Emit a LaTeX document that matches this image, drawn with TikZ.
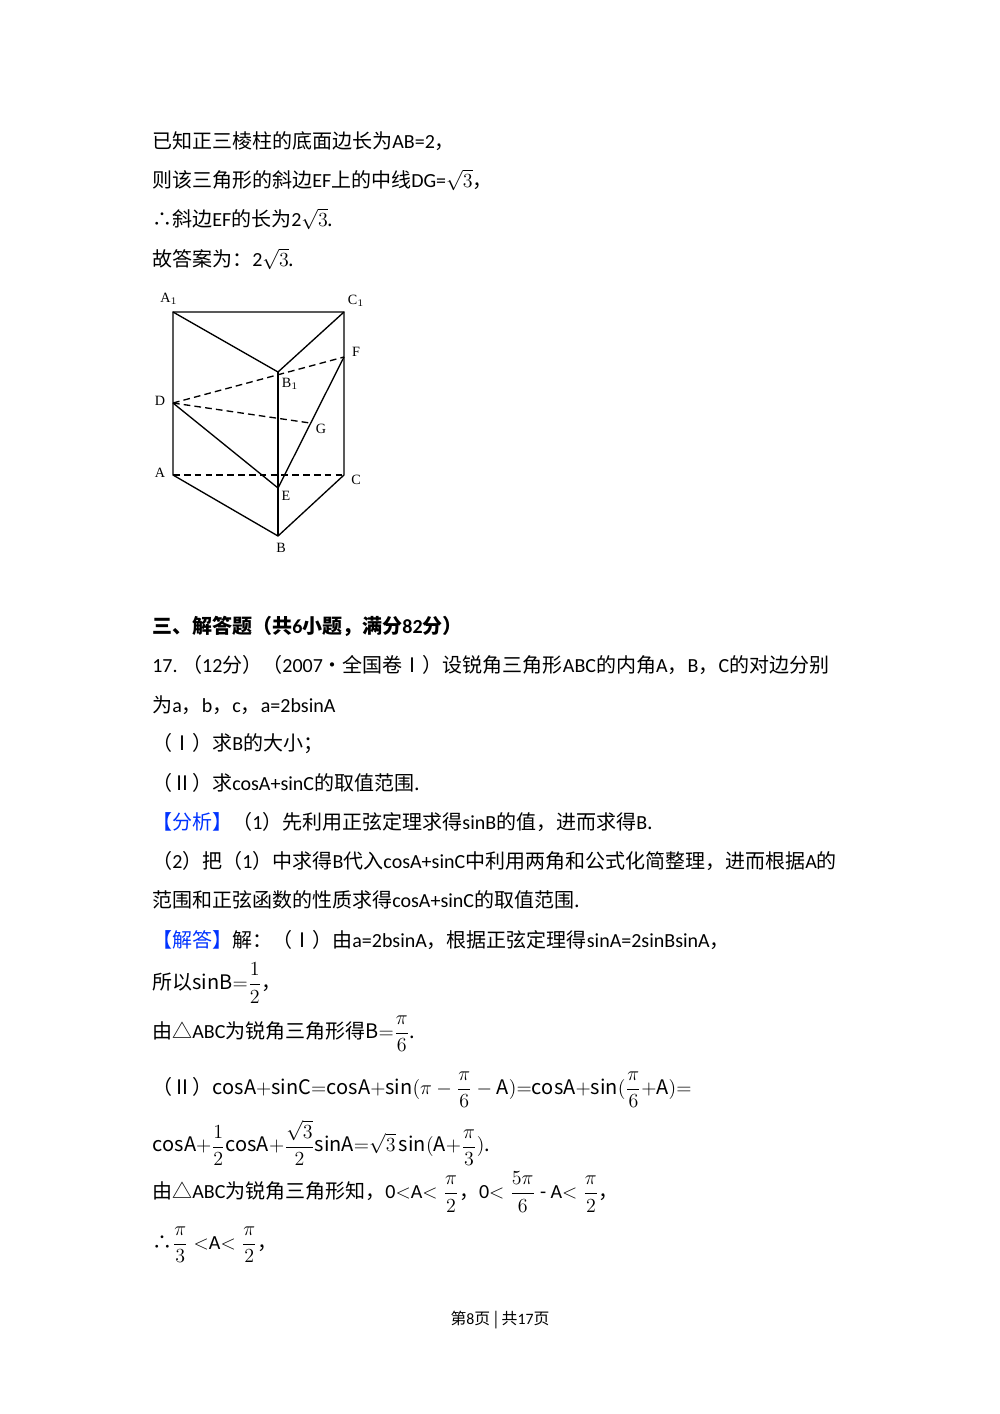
\documentclass[tikz,border=0pt]{standalone}
\usepackage{fontspec}
\setmainfont{Noto Sans CJK SC}
\newfontfamily\lt{Carlito}
\newfontfamily\sr{Liberation Serif}
\begin{document}
\begin{tikzpicture}[x=0.6pt,y=-0.6pt,
  tl/.style={anchor=west,inner sep=0pt,font=\fontsize{12pt}{13pt}\selectfont},
  lab/.style={inner sep=0pt,font=\sr\fontsize{8.5pt}{10pt}\selectfont},
  edge/.style={line width=0.8pt},
  hid/.style={line width=0.8pt,dashed,dash pattern=on 4pt off 2.5pt}]
\useasboundingbox[fill=white] (0,0) rectangle (1000,1414);
\node[tl] (t1) at (152,141) {已知正三棱柱的底面边长为{\lt AB=2}，};
\node[tl] (t2) at (152,180) {则该三角形的斜边{\lt EF}上的中线{\lt DG=}$\sqrt{3}$，};
\node[tl] (t3) at (152,219) {∴斜边{\lt EF}的长为{\lt 2}$\sqrt{3}$.};
\node[tl] (t4) at (152,259) {故答案为：{\lt 2}$\sqrt{3}$.};
% figure
\coordinate (A1) at (173,312); \coordinate (C1) at (344,312);
\coordinate (B1) at (278,372); \coordinate (F) at (344,357);
\coordinate (D) at (173,403); \coordinate (G) at (310,423);
\coordinate (A) at (173,475); \coordinate (C) at (344,475);
\coordinate (E) at (278,488); \coordinate (B) at (278,536);
\draw[edge] (A1)--(C1)--(C)--(B)--(A)--cycle;
\draw[edge] (A1)--(B1)--(C1);
\draw[edge] (B1)--(B);
\draw[edge] (D)--(E)--(F);
\draw[hid] (A)--(C);
\draw[hid] (D)--(F);
\draw[hid] (D)--(G);
\node[lab] (lA1) at (169,299) {A$_1$};
\node[lab] (lC1) at (356,301) {C$_1$};
\node[lab] (lB1) at (290,384) {B$_1$};
\node[lab] (lF) at (356,352) {F};
\node[lab] (lD) at (160,401) {D};
\node[lab] (lG) at (321,429) {G};
\node[lab] (lA) at (160,473) {A};
\node[lab] (lC) at (356,480) {C};
\node[lab] (lE) at (286,496) {E};
\node[lab] (lB) at (281,548) {B};
% text
\node[tl,font=\bfseries\fontsize{12pt}{13pt}\selectfont] (h) at (152,626) {三、解答题（共{\lt\bfseries 6}小题，满分{\lt\bfseries 82}分）};
\node[tl] (p1) at (152,665) {{\lt 17.}\ （{\lt 12}分）（{\lt 2007}•全国卷Ⅰ）设锐角三角形{\lt ABC}的内角{\lt A}，{\lt B}，{\lt C}的对边分别};
\node[tl] (p2) at (152,705) {为{\lt a}，{\lt b}，{\lt c}，{\lt a=2bsinA}};
\node[tl] (p3) at (152,744) {（Ⅰ）求{\lt B}的大小；};
\node[tl] (p4) at (152,783) {（Ⅱ）求{\lt cosA+sinC}的取值范围.};
\node[tl] (p5) at (152,822) {\textcolor{blue!80!cyan}{【分析】}（{\lt 1}）先利用正弦定理求得{\lt sinB}的值，进而求得{\lt B}.};
\node[tl] (p6) at (152,861) {（{\lt 2}）把（{\lt 1}）中求得{\lt B}代入{\lt cosA+sinC}中利用两角和公式化简整理，进而根据{\lt A}的};
\node[tl] (p7) at (152,900) {范围和正弦函数的性质求得{\lt cosA+sinC}的取值范围.};
\node[tl] (p8) at (152,940) {\textcolor{blue!80!cyan}{【解答】}解：（Ⅰ）由{\lt a=2bsinA}，根据正弦定理得{\lt sinA=2sinBsinA}，};
\node[tl] (p9) at (152,983) {所以$\displaystyle\mathrm{sinB}{=}\frac{1}{2}$，};
\node[tl] (p10) at (152,1034) {由△{\lt ABC}为锐角三角形得$\displaystyle\mathrm{B}{=}\frac{\pi}{6}$.};
\node[tl] (p11) at (152,1090) {（Ⅱ）$\displaystyle\mathrm{cosA{+}sinC{=}cosA{+}sin}(\pi-\frac{\pi}{6}-\mathrm{A}){=}\mathrm{cosA{+}sin}(\frac{\pi}{6}{+}\mathrm{A}){=}$};
\node[tl] (p12) at (152,1143) {$\displaystyle\mathrm{cosA}{+}\frac{1}{2}\mathrm{cosA}{+}\frac{\sqrt{3}}{2}\mathrm{sinA}{=}\sqrt{3}\,\mathrm{sin}(\mathrm{A}{+}\frac{\pi}{3})$.};
\node[tl] (p13) at (152,1192) {由△{\lt ABC}为锐角三角形知，{\lt 0}$<${\lt A}$\displaystyle<\frac{\pi}{2}$，{\lt 0}$\displaystyle<\frac{5\pi}{6}$ {\lt -} {\lt A}$\displaystyle<\frac{\pi}{2}$，};
\node[tl] (p14) at (152,1245) {∴$\displaystyle\frac{\pi}{3}<${\lt A}$\displaystyle<\frac{\pi}{2}$，};
\node[font=\fontsize{9.5pt}{11pt}\selectfont,inner sep=0pt] (ft) at (500,1320) {第{\lt 8}页 | 共{\lt 17}页};
\end{tikzpicture}
\end{document}
